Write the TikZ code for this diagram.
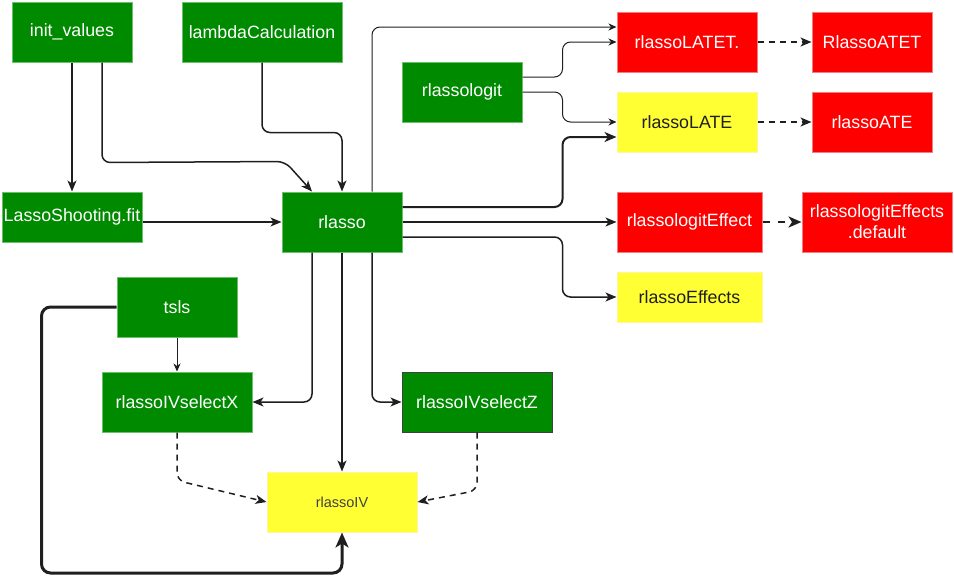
\documentclass[tikz,border=0pt]{standalone}
\usepackage{fontspec}
\setmainfont{Liberation Sans}
\usetikzlibrary{arrows.meta,calc}
\definecolor{gfill}{HTML}{008A00}
\definecolor{gline}{HTML}{6CC06C}
\definecolor{rfill}{HTML}{FF0000}
\definecolor{rline}{HTML}{F08080}
\definecolor{yfill}{HTML}{FFFF33}
\definecolor{yline}{HTML}{FFF59D}
\definecolor{ink}{HTML}{1F1F1F}
\tikzset{
  box/.style={rectangle, inner sep=0pt, line width=1pt, align=center,
    font=\fontsize{17.8}{21}\selectfont},
  gbox/.style={box, fill=gfill, draw=gline, text=white},
  rbox/.style={box, fill=rfill, draw=rline, text=white},
  ybox/.style={box, fill=yfill, draw=yline, text=ink},
  sz/.style 2 args={minimum width=#1pt, minimum height=#2pt},
  conn/.style={draw=ink, line width=1.5pt, rounded corners=8pt,
    -{Stealth[length=11pt,width=9pt,inset=3pt]}},
  thin/.style={draw=ink, line width=1pt, rounded corners=8pt,
    -{Stealth[length=8pt,width=7pt,inset=2.5pt]}},
  thickc/.style={draw=ink, line width=2pt, rounded corners=8pt,
    -{Stealth[length=12pt,width=10pt,inset=3.5pt]}},
  heavy/.style={draw=ink, line width=3pt, rounded corners=9pt,
    -{Stealth[length=15pt,width=13pt,inset=4pt]}},
  dconn/.style={conn, dash pattern=on 6pt off 5pt},
  dheavy/.style={draw=ink, line width=2.5pt, dash pattern=on 7pt off 8pt,
    -{Stealth[length=13pt,width=11pt,inset=3.5pt]}},
}
\begin{document}
\begin{tikzpicture}[x=1pt,y=-1pt]
\useasboundingbox (0,0) rectangle (954,582);
% nodes
\node[gbox, sz={120}{60}] (init) at (72,32) {init\_values};
\node[gbox, sz={160}{60}] (lambda) at (262,32) {lambdaCalculation};
\node[gbox, sz={120}{60}] (logit) at (462,92) {rlassologit};
\node[rbox, sz={140}{60}] (latet) at (687,42) {rlassoLATET.};
\node[rbox, sz={120}{60}] (atet) at (872,42) {RlassoATET};
\node[ybox, sz={140}{60}] (late) at (687,122) {rlassoLATE};
\node[rbox, sz={120}{60}] (ate) at (872,122) {rlassoATE};
\node[gbox, sz={140}{50}] (lasso) at (72,217) {LassoShooting.fit};
\node[gbox, sz={120}{60}] (rlasso) at (342,222) {rlasso};
\node[rbox, sz={145}{60}] (leff) at (689.5,222) {rlassologitEffect};
\node[rbox, sz={150}{60}] (ldef) at (877,222) {rlassologitEffects\\.default};
\node[ybox, sz={145}{50}] (eff) at (689.5,297) {rlassoEffects};
\node[gbox, sz={120}{60}] (tsls) at (177,307) {tsls};
\node[gbox, sz={150}{60}] (selx) at (177,402) {rlassoIVselectX};
\node[gbox, sz={150}{60}, draw=ink!85] (selz) at (477,402) {rlassoIVselectZ};
\node[ybox, sz={150}{60}, font=\fontsize{14.5}{17}\selectfont, text=ink!85] (iv) at (342,502) {rlassoIV};
% connectors
\draw[conn] (init) -- (lasso);
\draw[conn] ($(init.south)+(30,0)$) -- ($(init.south)+(30,100)$) -- ($(rlasso.north)+(-57,-30)$) -- ($(rlasso.north)+(-30,0)$);
\draw[conn] (lambda.south) -- ++(0,70) -| (rlasso.north);
\draw[conn] (lasso.east |- rlasso.west) -- (rlasso.west);
\draw[thin] ($(rlasso.north)+(30,0)$) |- ($(latet.west)+(0,-15)$);
\draw[thin] ($(logit.east)+(0,-15)$) -- ++(40,0) |- (latet.west);
\draw[thin] (logit.east) -- ++(40,0) |- (late.west);
\draw[thickc] ($(rlasso.east)+(0,-15)$) -- ++(160,0) |- ($(late.west)+(0,15)$);
\draw[conn] (rlasso.east) -- (leff.west);
\draw[conn] ($(rlasso.east)+(0,15)$) -- ++(160,0) |- (eff.west);
\draw[dconn] (latet) -- (atet);
\draw[dconn] (late) -- (ate);
\draw[dheavy] (leff) -- (ldef);
\draw[conn] ($(rlasso.south)+(-30,0)$) |- (selx.east);
\draw[conn] (rlasso) -- (iv);
\draw[conn] ($(rlasso.south)+(30,0)$) |- (selz.west);
\draw[thin] (tsls) -- (selx);
\draw[heavy] (tsls.west) -- ++(-75,0) -- ++(0,266) -| (iv.south);
\draw[dconn] (selx.south) -- ++(0,48) -- (iv.west);
\draw[dconn] (selz.south) -- ++(0,58) -- (iv.east);
\end{tikzpicture}
\end{document}
